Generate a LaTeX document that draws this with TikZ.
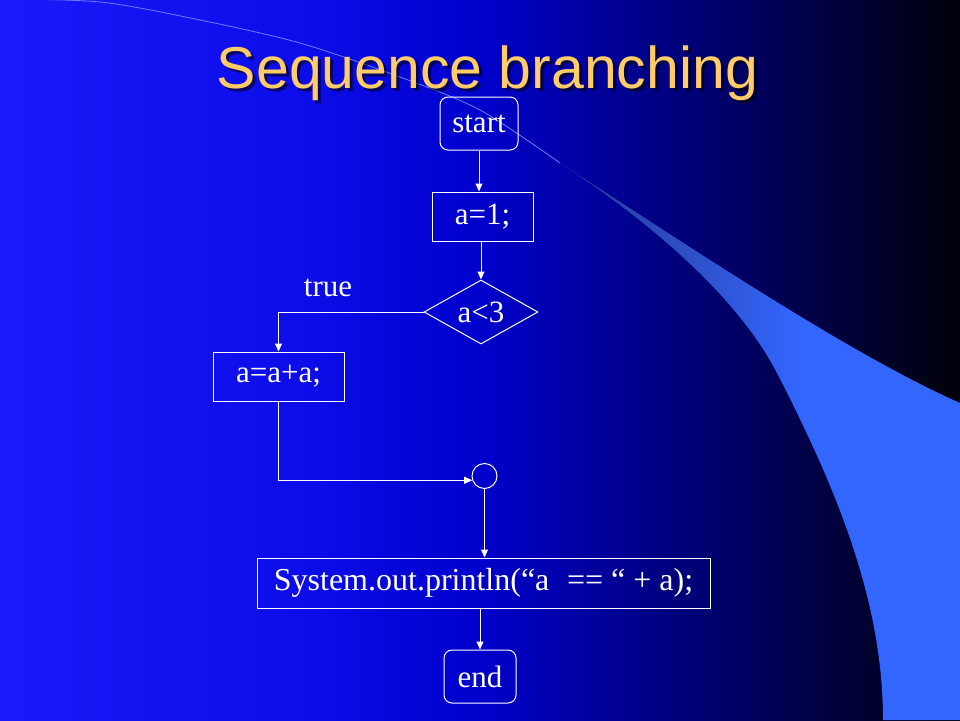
\documentclass[tikz,border=0pt]{standalone}
\usepackage{fontspec}
\setmainfont{Liberation Serif}
\newfontfamily\titlefont{Liberation Sans}
\usetikzlibrary{shapes.geometric,arrows.meta,calc}
\definecolor{titlecol}{RGB}{255,204,102}
\definecolor{swoosh}{RGB}{100,130,255}
\pgfdeclarehorizontalshading{bgshade}{100bp}{rgb(0bp)=(0.1,0.1,0.98); rgb(25bp)=(0.1,0.1,0.98); rgb(40.625bp)=(0.05,0.05,0.92); rgb(50bp)=(0,0,0.8); rgb(61.46bp)=(0,0,0.45); rgb(69.79bp)=(0,0,0.2); rgb(75bp)=(0,0,0.03); rgb(100bp)=(0,0,0.03)}
\pgfdeclarehorizontalshading{wedgeshade}{100bp}{rgb(0bp)=(0.15,0.22,0.6); rgb(25bp)=(0.15,0.22,0.6); rgb(42.5bp)=(0.18,0.32,0.8); rgb(55bp)=(0.2,0.4,1); rgb(75bp)=(0.2,0.4,1); rgb(100bp)=(0.2,0.4,1)}
\begin{document}
\begin{tikzpicture}[x=1pt,y=-1pt,
  box/.style={draw=white, line width=1pt, text=white, inner sep=0pt, font=\fontsize{31}{31}\selectfont},
  termbox/.style={box, rounded corners=8pt},
  arr/.style={draw=white, line width=1pt, -{Triangle[width=7pt,length=8pt]}},
  titlestyle/.style={anchor=base, inner sep=0pt, font=\titlefont\fontsize{59}{59}\selectfont}]
\useasboundingbox (0,0) rectangle (960,720);
\shade[shading=bgshade] (0,0) rectangle (960,720);
\shade[shading=wedgeshade] (560,163) .. controls (680,240) and (845,352) .. (960,403) -- (960,720) -- (883,720)
  .. controls (883,600) and (836,488) .. (777,373)
  .. controls (737,296) and (650,222) .. (560,163) -- cycle;
\draw[swoosh, line width=0.8pt] plot[smooth] coordinates {(-5,-1) (100,2) (200,20) (300,43) (400,77) (480,110) (560,163)};
% title
\node[titlestyle, text=black, text opacity=0.55] (titleshadow) at (490.5,91) {Sequence branching};
\node[titlestyle, text=titlecol] (title) at (487.5,88) {Sequence branching};
% nodes
\node[termbox, minimum width=78pt, minimum height=53pt] (start) at (479,123.5) {start};
\node[box, minimum width=101pt, minimum height=49pt] (a1) at (482.5,216.5) {a=1;};
\node[box, diamond, aspect=2, minimum width=114pt, minimum height=64pt] (cond) at (481,312) {a<3\hspace{21pt}};
\node[text=white, inner sep=0pt, font=\fontsize{31}{31}\selectfont] (truelbl) at (328,288) {true};
\node[box, minimum width=131pt, minimum height=49pt] (aa) at (278.5,376.5) {a=a+a;\hspace{9pt}};
\node[draw=white, line width=1pt, circle, minimum size=25pt, inner sep=0pt] (join) at (484.5,476) {};
\node[box, minimum width=453pt, minimum height=50pt, font=\fontsize{32}{32}\selectfont] (print) at (483.5,583) {System.out.println(“a\hspace{0.55em}== “ + a);};
\node[termbox, minimum width=72pt, minimum height=53pt] (end) at (480,676.5) {end};
% connectors
\draw[arr] (start.south) -- (start.south |- a1.north);
\draw[arr] (a1.south -| cond.north) -- (cond.north);
\draw[arr] (cond.west) -| (aa.north);
\draw[arr] (aa.south) |- (join.199);
\draw[arr] (join.south) -- (join.south |- print.north);
\draw[arr] (end.north |- print.south) -- (end.north);
\end{tikzpicture}
\end{document}
